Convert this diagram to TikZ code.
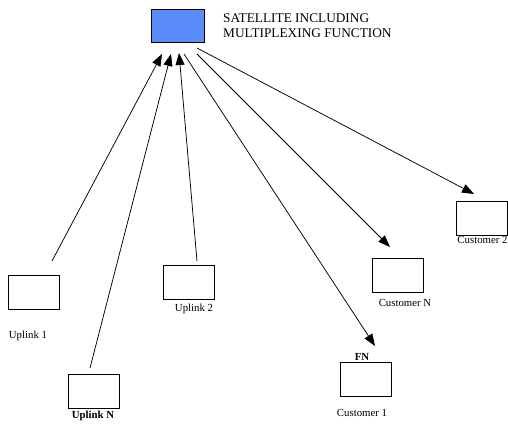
\documentclass[tikz,border=0pt]{standalone}
\usepackage{fontspec}
\setmainfont{Liberation Serif}
\usetikzlibrary{arrows.meta}
\definecolor{satblue}{RGB}{90,140,250}
\tikzset{
  unitbox/.style={draw, line width=0.8pt, minimum width=51pt, minimum height=34pt, inner sep=0pt},
  lbl/.style={font=\fontsize{10.8}{12}\selectfont, inner sep=0pt},
  blbl/.style={font=\fontsize{10.8}{12}\selectfont\bfseries, inner sep=0pt},
  link/.style={line width=0.75pt, -{Triangle[length=12pt,width=9pt]}}
}
\begin{document}
\begin{tikzpicture}[x=1pt,y=-1pt]
\useasboundingbox (0,0) rectangle (508,424);
% satellite
\node[unitbox, fill=satblue, minimum width=53pt, minimum height=33pt] (sat) at (177.5,26) {};
\node[font=\fontsize{13.3}{14.5}\selectfont, anchor=west, align=left, inner sep=0pt] (sattxt) at (223,25.5) {SATELLITE INCLUDING\\MULTIPLEXING FUNCTION};
% uplinks
\node[unitbox] (up1) at (34,292) {};
\node[lbl] (up1l) at (28,336) {Uplink 1};
\node[unitbox] (upN) at (94,391) {};
\node[blbl] (upNl) at (93,416) {Uplink N};
\node[unitbox] (up2) at (188.5,282.5) {};
\node[lbl] (up2l) at (194,309) {Uplink 2};
% customers
\node[unitbox] (cusN) at (397.5,275) {};
\node[lbl] (cusNl) at (405,303) {Customer N};
\node[unitbox] (cus2) at (482,218.5) {};
\node[lbl] (cus2l) at (482.5,240) {Customer 2};
\node[unitbox] (fn) at (365.5,379) {};
\node[blbl] (fnl) at (362,357) {FN};
\node[lbl] (cus1l) at (362,413) {Customer 1};
% connector ends
\coordinate (s1) at (52,261);
\coordinate (t1) at (162,54);
\coordinate (s2) at (90,368);
\coordinate (t2) at (171,54);
\coordinate (s3) at (197,261);
\coordinate (t3) at (179,53);
\coordinate (o1) at (184,54);
\coordinate (e1) at (375,346);
\coordinate (o2) at (197,54);
\coordinate (e2) at (390,247);
\coordinate (o3) at (197,48);
\coordinate (e3) at (474,194);
\draw[link] (s1) -- (t1);
\draw[link] (s2) -- (t2);
\draw[link] (s3) -- (t3);
\draw[link] (o1) -- (e1);
\draw[link] (o2) -- (e2);
\draw[link] (o3) -- (e3);
\end{tikzpicture}
\end{document}
